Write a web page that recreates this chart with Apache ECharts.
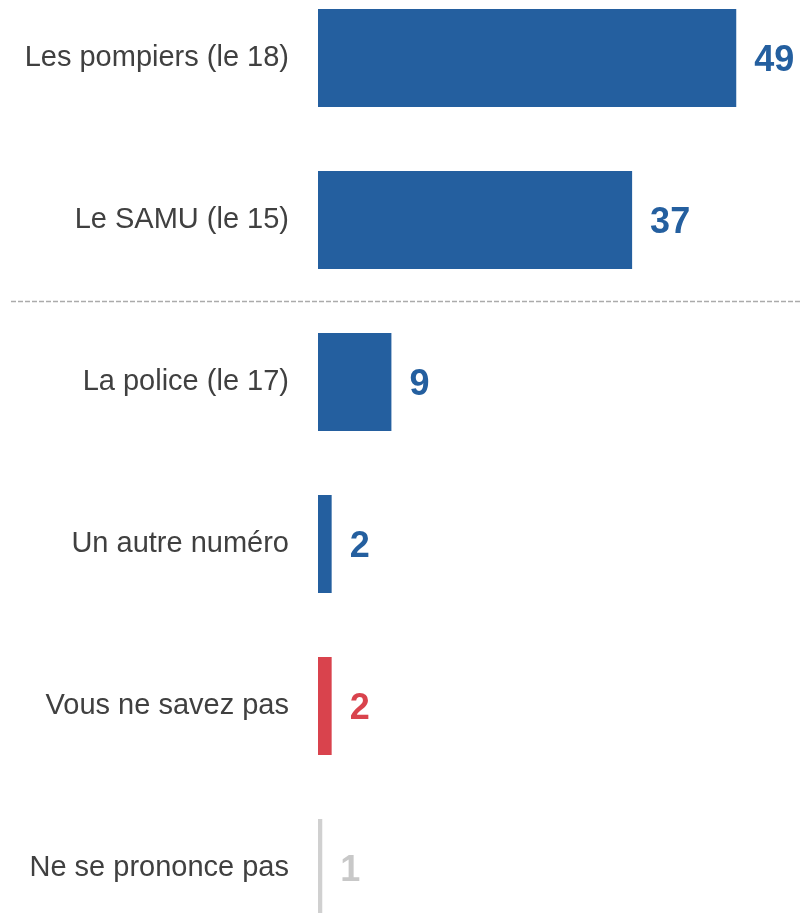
<!DOCTYPE html>
<html>
<head>
<meta charset="utf-8">
<script src="https://cdn.jsdelivr.net/npm/echarts@6/dist/echarts.min.js"></script>
<style>
  html, body { margin: 0; padding: 0; background: #fff; }
  #chart { width: 802px; height: 913px; }
</style>
</head>
<body>
<div id="chart"></div>
<script>
// réponses (ordre d'affichage, de haut en bas)
var categories = [
  "Les pompiers (le 18)",
  "Le SAMU (le 15)",
  "La police (le 17)",
  "Un autre numéro",
  "Vous ne savez pas",
  "Ne se prononce pas"
];
// longueur des barres (valeurs non arrondies estimées)
var barValues = [49, 36.8, 8.6, 1.6, 1.6, 0.5];
// valeurs affichées (arrondies)
var labelValues = [49, 37, 9, 2, 2, 1];
// type de réponse : "main", "dk" (ne sait pas), "nr" (non réponse)
var kinds = ["main", "main", "main", "main", "dk", "nr"];

var C = {
  main: "#245f9f",
  dk: "#d9434d",
  nr: "#d0d0d0",
  nrText: "#c8c8c8",
  text: "#404040",
  sep: "#ababab"
};
var FONT = "'Liberation Sans', Arial, sans-serif";

var chart = echarts.init(document.getElementById("chart"));

chart.setOption({
  animation: false,
  grid: { left: 318, right: 6, top: -23, bottom: -36, outerBoundsMode: "none" },
  xAxis: {
    type: "value",
    min: 0,
    max: 56,
    show: false
  },
  yAxis: {
    type: "category",
    data: categories,
    inverse: true,
    axisLine: { show: false },
    axisTick: { show: false },
    axisLabel: {
      color: C.text,
      fontSize: 29,
      fontFamily: FONT,
      margin: 29,
      padding: [3, 0, 0, 0]
    }
  },
  series: [{
    type: "bar",
    barWidth: 98,
    data: barValues.map(function (v, i) {
      var k = kinds[i];
      return {
        value: v,
        itemStyle: { color: C[k] },
        label: {
          show: true,
          position: "right",
          distance: 18,
          offset: [0, 3],
          formatter: function () { return String(labelValues[i]); },
          fontSize: 36,
          fontWeight: "bold",
          fontFamily: FONT,
          color: k === "nr" ? C.nrText : C[k]
        }
      };
    })
  }]
});

// séparateur en pointillés entre le SAMU et la police
var y1 = chart.convertToPixel({ yAxisIndex: 0 }, categories[1]);
var y2 = chart.convertToPixel({ yAxisIndex: 0 }, categories[2]);
var ySep = Math.round((y1 + y2) / 2) + 0.5;
chart.setOption({
  graphic: [{
    type: "line",
    shape: { x1: 11, y1: ySep, x2: 802, y2: ySep },
    style: { stroke: C.sep, lineWidth: 1.5, lineDash: [5, 2] },
    silent: true
  }]
});
</script>
</body>
</html>
